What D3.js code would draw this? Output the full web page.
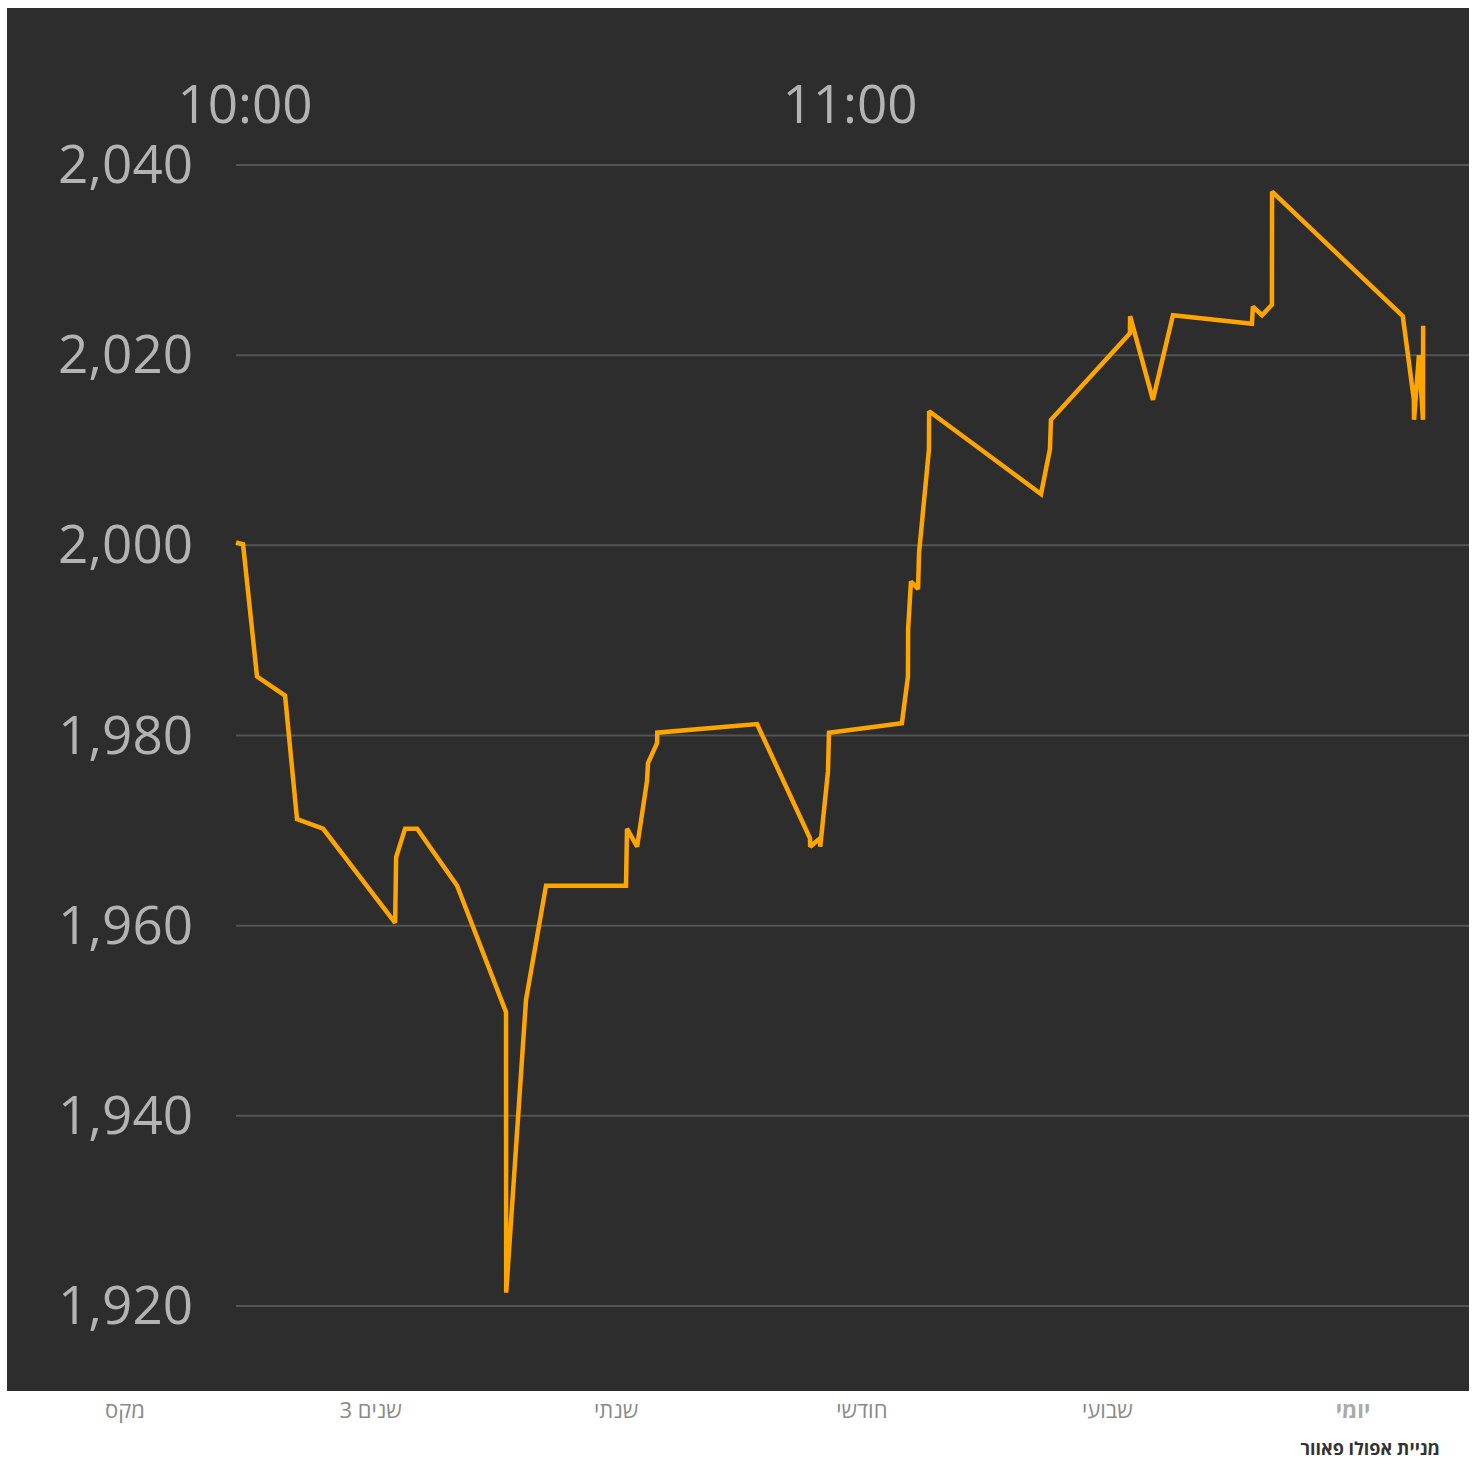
<!DOCTYPE html>
<html>
<head>
<meta charset="utf-8">
<script src="https://cdn.jsdelivr.net/npm/d3@7"></script>
<style>
  body { margin: 0; background: #fff; }
  svg { display: block; }
</style>
</head>
<body>
<div id="chart"></div>
<script>
// price data
const times = [
  '09:59:06', '09:59:48', '10:01:11', '10:03:58', '10:05:09', '10:07:44', '10:14:53', '10:14:59',
  '10:15:52', '10:17:04', '10:21:02', '10:25:53', '10:25:54', '10:27:52', '10:29:51', '10:37:47',
  '10:37:53', '10:38:53', '10:39:52', '10:39:58', '10:40:52', '10:40:53', '10:50:47', '10:56:02',
  '10:56:03', '10:57:02', '10:57:03', '10:57:49', '10:57:55', '11:05:09', '11:05:45', '11:05:46',
  '11:06:03', '11:06:45', '11:06:51', '11:07:50', '11:07:51', '11:18:57', '11:19:50', '11:19:56',
  '11:27:46', '11:27:47', '11:30:03', '11:32:02', '11:39:52', '11:39:58', '11:40:52', '11:41:51',
  '11:41:52', '11:54:50', '11:55:56', '11:55:57', '11:56:26', '11:56:50', '11:56:51'
];
const prices = [
  2000.3, 2000.1, 1986.2, 1984.2, 1971.2, 1970.2, 1960.3, 1967.2,
  1970.2, 1970.2, 1964.2, 1950.9, 1921.4, 1952.2, 1964.2, 1964.2,
  1970.2, 1968.3, 1975.2, 1977.1, 1979.2, 1980.3, 1981.2, 1969.2,
  1968.3, 1969.2, 1968.3, 1976.2, 1980.3, 1981.3, 1986.2, 1991.2,
  1996.2, 1995.4, 1999.2, 2010.1, 2014.1, 2005.4, 2010.1, 2013.2,
  2022.3, 2024.1, 2015.3, 2024.2, 2023.3, 2025.1, 2024.2, 2025.3,
  2037.2, 2024.1, 2015.3, 2013.2, 2020.0, 2013.2, 2023.1
];
const yTicks = [1920, 1940, 1960, 1980, 2000, 2020, 2040];
const xTicks = ['10:00:00', '11:00:00'];
const tabs = ['מקס', '3 שנים', 'שנתי', 'חודשי', 'שבועי', 'יומי'];
const selectedTab = 'יומי';
const footer = 'מניית אפולו פאוור';

const width = 1475, height = 1460;
const parse = d3.timeParse('%H:%M:%S');
const data = times.map((t, i) => ({ date: parse(t), value: prices[i] }));

const svg = d3.select('#chart').append('svg')
  .attr('width', width)
  .attr('height', height);

// dark panel
svg.append('rect')
  .attr('x', 7).attr('y', 8)
  .attr('width', 1462).attr('height', 1383)
  .attr('fill', '#2d2d2d');

const x = d3.scaleTime()
  .domain([parse('09:59:06'), parse('12:01:24')])
  .range([236, 1469]);

const y = d3.scaleLinear()
  .domain([1920, 2040])
  .range([1306, 165]);

// grid
svg.append('g')
  .selectAll('line')
  .data(yTicks)
  .enter().append('line')
  .attr('x1', 236).attr('x2', 1469)
  .attr('y1', d => y(d)).attr('y2', d => y(d))
  .attr('stroke', '#545454')
  .attr('stroke-width', 2);

// y labels
const fmt = d3.format(',');
svg.append('g')
  .selectAll('text')
  .data(yTicks)
  .enter().append('text')
  .attr('x', 193)
  .attr('y', d => y(d) + 18)
  .attr('text-anchor', 'end')
  .attr('font-family', '"Open Sans", sans-serif')
  .attr('font-size', 53)
  .attr('fill', '#b3b3b3')
  .text(d => fmt(d));

// time labels on top
svg.append('g')
  .selectAll('text')
  .data(xTicks)
  .enter().append('text')
  .attr('x', d => x(parse(d)))
  .attr('y', 123)
  .attr('text-anchor', 'middle')
  .attr('font-family', '"Open Sans", sans-serif')
  .attr('font-size', 53)
  .attr('fill', '#b3b3b3')
  .text(d => d3.timeFormat('%H:%M')(parse(d)));

// price line
const line = d3.line()
  .x(d => x(d.date))
  .y(d => y(d.value));

svg.append('path')
  .datum(data)
  .attr('d', line)
  .attr('fill', 'none')
  .attr('stroke', '#ffa500')
  .attr('stroke-width', 4.5)
  .attr('stroke-linejoin', 'miter')
  .attr('stroke-miterlimit', 2);

// range tabs
const tabX = d3.scalePoint()
  .domain(tabs)
  .range([125, 1353]);

svg.append('g')
  .selectAll('text')
  .data(tabs)
  .enter().append('text')
  .attr('x', d => tabX(d))
  .attr('y', 1418)
  .attr('text-anchor', 'middle')
  .attr('font-family', '"Liberation Sans Narrow", "Open Sans", sans-serif')
  .attr('font-size', 22)
  .attr('font-weight', d => d === selectedTab ? 700 : 400)
  .attr('fill', d => d === selectedTab ? '#aaaaaa' : '#8a8a8a')
  .text(d => d);

svg.append('text')
  .attr('x', 1440)
  .attr('y', 1455)
  .attr('text-anchor', 'end')
  .attr('font-family', '"Open Sans", sans-serif')
  .attr('font-weight', 700)
  .attr('font-size', 18)
  .attr('fill', '#333')
  .text(footer);
</script>
</body>
</html>
